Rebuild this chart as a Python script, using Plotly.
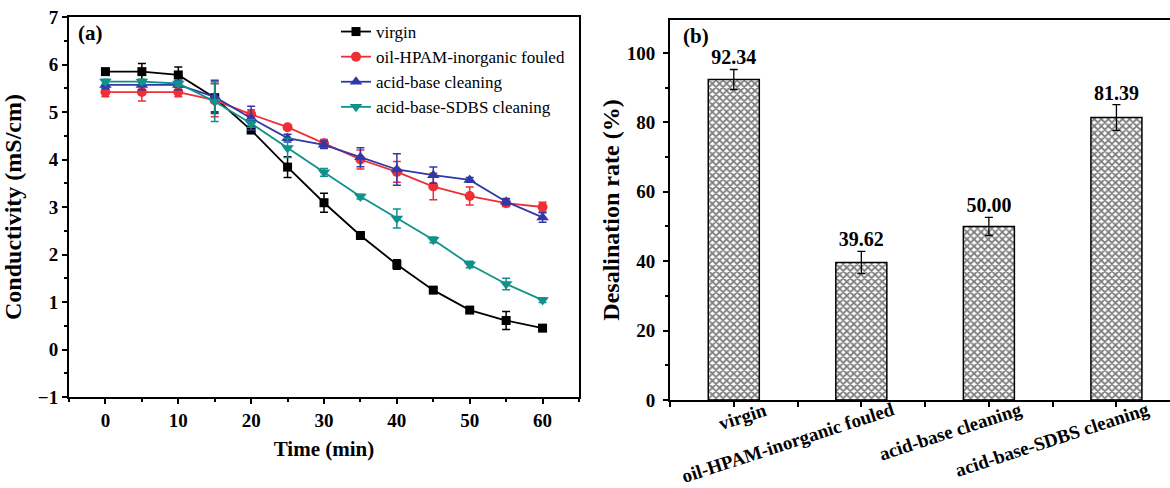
import plotly.graph_objects as go

# ---------------- data ----------------
time_min = [0, 5, 10, 15, 20, 25, 30, 35, 40, 45, 50, 55, 60]

virgin = [5.85, 5.85, 5.78, 5.30, 4.62, 3.84, 3.09, 2.40, 1.79, 1.25, 0.83, 0.61, 0.45]
virgin_err = [0.06, 0.17, 0.17, 0.30, 0.06, 0.22, 0.20, 0.05, 0.10, 0.05, 0.05, 0.19, 0.06]

fouled = [5.42, 5.42, 5.42, 5.25, 4.95, 4.68, 4.34, 4.00, 3.74, 3.43, 3.23, 3.08, 3.00]
fouled_err = [0.10, 0.19, 0.10, 0.35, 0.10, 0.05, 0.08, 0.20, 0.22, 0.28, 0.19, 0.07, 0.10]

acid_base = [5.57, 5.57, 5.57, 5.32, 4.87, 4.45, 4.31, 4.05, 3.79, 3.67, 3.57, 3.11, 2.78]
acid_base_err = [0.08, 0.10, 0.10, 0.35, 0.25, 0.08, 0.08, 0.20, 0.33, 0.17, 0.05, 0.07, 0.10]

sdbs = [5.64, 5.64, 5.60, 5.22, 4.76, 4.24, 3.73, 3.22, 2.76, 2.31, 1.79, 1.38, 1.04]
sdbs_err = [0.05, 0.05, 0.05, 0.42, 0.08, 0.20, 0.08, 0.05, 0.20, 0.06, 0.07, 0.12, 0.05]

series_names = ["virgin", "oil-HPAM-inorganic fouled", "acid-base cleaning", "acid-base-SDBS cleaning"]
series_colors = ["#000000", "#EE2F36", "#3238A8", "#11918C"]
series_symbols = ["square", "circle", "triangle-up", "triangle-down"]
series_sizes = [9, 10, 11, 11]

bar_categories = ["virgin", "oil-HPAM-inorganic fouled", "acid-base cleaning", "acid-base-SDBS cleaning"]
desal_rate = [92.34, 39.62, 50.00, 81.39]
desal_err = [2.9, 3.2, 2.6, 3.7]

# ---------------- figure ----------------
FONT = "Liberation Serif"
fig = go.Figure()

all_y = [virgin, fouled, acid_base, sdbs]
all_err = [virgin_err, fouled_err, acid_base_err, sdbs_err]
for name, ys, es, col, sym, sz in zip(series_names, all_y, all_err, series_colors,
                                      series_symbols, series_sizes):
    fig.add_trace(go.Scatter(
        x=time_min, y=ys, name=name, mode="lines+markers",
        line=dict(color=col, width=1.8),
        marker=dict(symbol=sym, size=sz, color=col),
        error_y=dict(type="data", array=es, visible=True, color=col, thickness=1.5, width=4),
        xaxis="x", yaxis="y",
    ))

bar_x = list(range(len(bar_categories)))
fig.add_trace(go.Bar(
    x=bar_x, y=desal_rate, width=0.4,
    marker=dict(color="white", line=dict(color="black", width=1.5),
                pattern=dict(shape="x", size=5, solidity=0.6, fgcolor="black", bgcolor="white")),
    error_y=dict(type="data", array=desal_err, visible=True, color="black", thickness=1.3, width=4),
    showlegend=False, xaxis="x2", yaxis="y2",
))

fig.add_trace(go.Scatter(
    x=bar_x,
    y=[v + e for v, e in zip(desal_rate, desal_err)],
    text=[f"{v:.2f}" for v in desal_rate],
    mode="text", textposition="top center",
    textfont=dict(family=FONT, size=20, color="black", weight="bold"),
    showlegend=False, xaxis="x2", yaxis="y2", hoverinfo="skip",
))

axis_common = dict(
    showline=True, linecolor="black", linewidth=2,
    ticks="outside", ticklen=5, tickwidth=2, tickcolor="black",
    showgrid=False, zeroline=False, automargin=False,
    tickfont=dict(family=FONT, size=19, color="black", weight="bold"),
)
xtitle_font = dict(family=FONT, size=21, color="black", weight="bold")
ytitle_font = dict(family=FONT, size=24, color="black", weight="bold")

W, H = 1170, 488

annotations = [
    dict(text="(a)", xref="x domain", yref="y domain", x=0.013, y=1.0, yshift=-2,
         xanchor="left", yanchor="top", showarrow=False,
         font=dict(family=FONT, size=21, color="black", weight="bold")),
    dict(text="(b)", xref="x2 domain", yref="y2 domain", x=0.022, y=1.0, yshift=-2,
         xanchor="left", yanchor="top", showarrow=False,
         font=dict(family=FONT, size=21, color="black", weight="bold")),
]
for i, cat in enumerate(bar_categories):
    annotations.append(dict(
        text=cat, xref="x2", yref="y2 domain", x=bar_x[i], y=0,
        xanchor="right", yanchor="top", xshift=38, yshift=4,
        textangle=-18, showarrow=False,
        font=dict(family=FONT, size=19, color="black", weight="bold"),
    ))

fig.update_layout(
    width=W, height=H,
    margin=dict(l=0, r=0, t=0, b=0),
    paper_bgcolor="white", plot_bgcolor="white",
    showlegend=True,
    legend=dict(x=336 / W, y=1 - 14 / H, xanchor="left", yanchor="top",
                bgcolor="rgba(0,0,0,0)", borderwidth=0,
                font=dict(family=FONT, size=17, color="black"),
                tracegroupgap=0),
    xaxis=dict(axis_common, domain=[69 / W, 579 / W], range=[-5, 65],
               tick0=0, dtick=10, mirror=True,
               minor=dict(dtick=5, ticks="outside", ticklen=3, tickwidth=2, tickcolor="black"),
               title=dict(text="Time (min)", standoff=12, font=xtitle_font),
               anchor="y"),
    yaxis=dict(axis_common, domain=[1 - 397 / H, 1 - 17 / H], range=[-1, 7],
               tick0=0, dtick=1, mirror=True,
               minor=dict(dtick=0.5, ticks="outside", ticklen=3, tickwidth=2, tickcolor="black"),
               title=dict(text="Conductivity (mS/cm)", standoff=12, font=ytitle_font),
               anchor="x"),
    xaxis2=dict(axis_common, domain=[670 / W, 1.0], range=[-0.5, 3.42],
                tickmode="array", tickvals=bar_x, showticklabels=False, mirror=True,
                minor=dict(tickmode="array", tickvals=[-0.5, 0.5, 1.5, 2.5],
                           ticks="outside", ticklen=5, tickwidth=2, tickcolor="black"),
                anchor="y2"),
    yaxis2=dict(axis_common, domain=[1 - 400 / H, 1 - 20 / H], range=[0, 109.5],
                tick0=0, dtick=20, mirror=False, ticklabelstandoff=4,
                minor=dict(dtick=10, ticks="outside", ticklen=3, tickwidth=2, tickcolor="black"),
                title=dict(text="Desalination rate (%)", standoff=0, font=ytitle_font),
                anchor="x2"),
    annotations=annotations,
)

fig.write_html("out.html", config={"displayModeBar": False},
               post_script="document.body.style.margin='0';")
